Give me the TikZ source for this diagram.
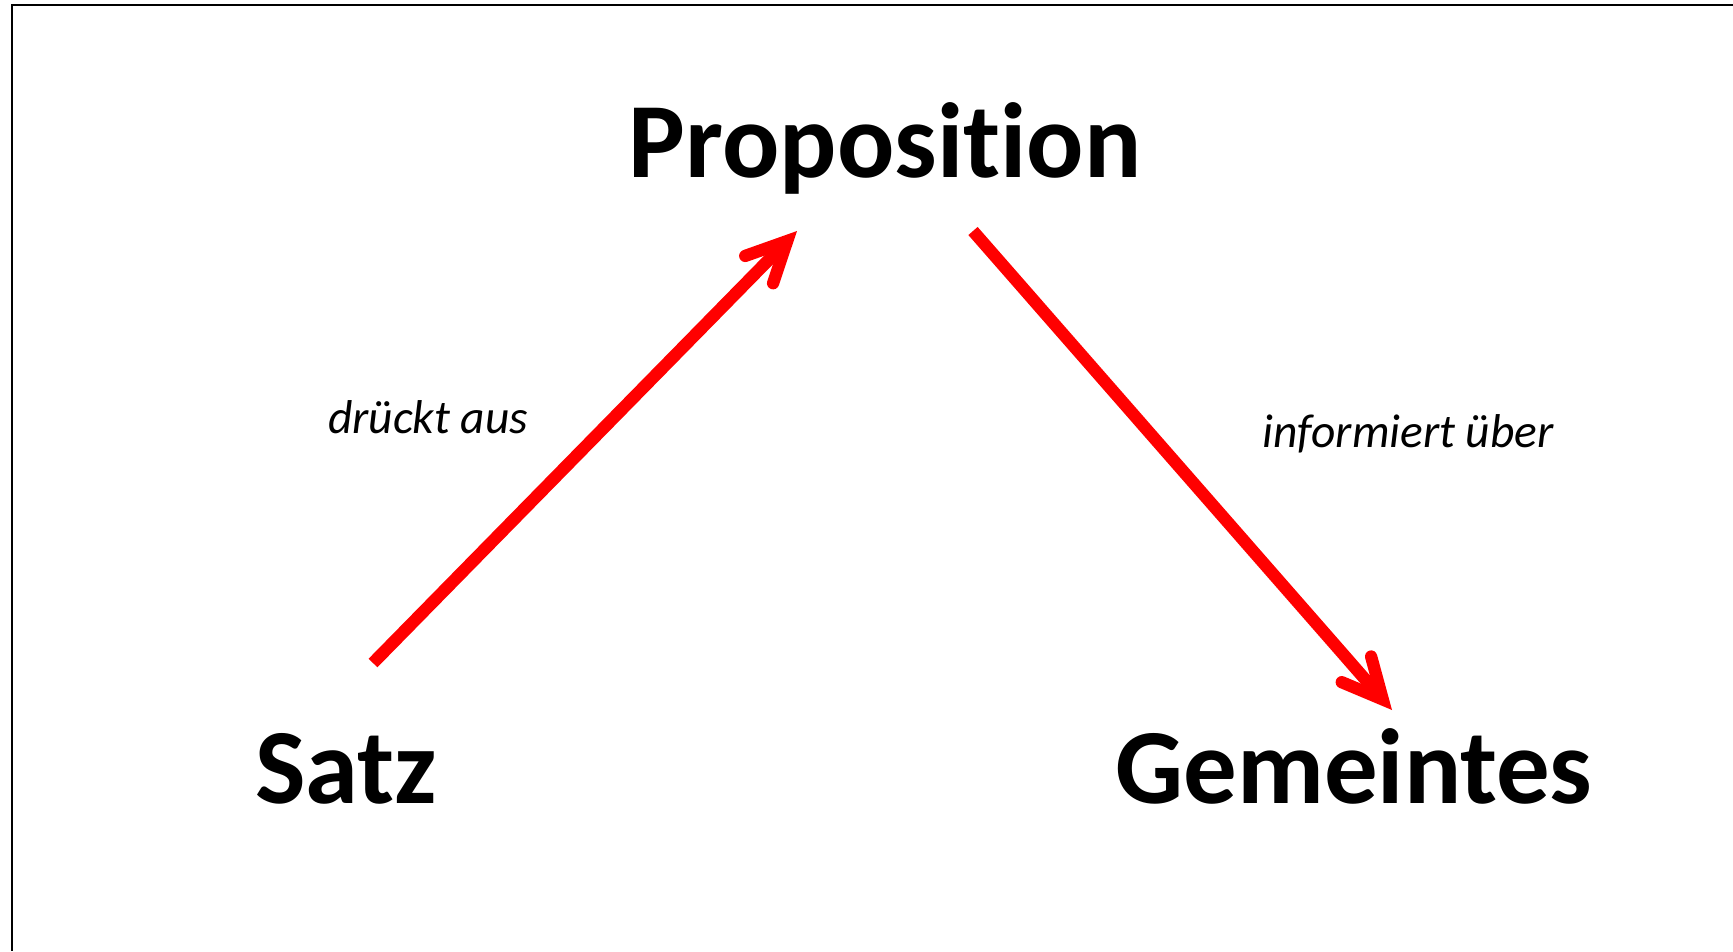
\documentclass[tikz,border=0pt]{standalone}
\usepackage{fontspec}
\setmainfont{Carlito}[Ligatures=NoCommon]
\usetikzlibrary{arrows.meta}

\begin{document}
\begin{tikzpicture}[x=0.1mm, y=-0.1mm,
		term/.style={font=\bfseries\fontsize{30.4}{35}\selectfont, inner sep=0pt, anchor=base},
		rel/.style={font=\itshape\fontsize{13.5}{16}\selectfont, inner sep=0pt, anchor=base},
		arr/.style={red, line width=3.5pt, -{Straight Barb[length=4mm, width=3.9mm, line cap=round, line join=miter]}}]
		
		\useasboundingbox (0,0) rectangle (1733,951);
		\draw[black, line width=0.6pt] (1733,5) -- (12,5) -- (12,951);
		
		\node[term] (prop) at (885,177) {Proposition};
		\node[term] (satz) at (346,803) {Satz};
		\node[term] (gem) at (1354,803) {Gemeintes};
		
		\node[rel] (aus) at (428,433) {drückt aus};
		\node[rel] (ueber) at (1408,447) {informiert über};
		
		\draw[arr] ([shift={(27,-140)}]satz.base) -- ([shift={(-88,54)}]prop.base);
		\draw[arr] ([shift={(88,54)}]prop.base) -- ([shift={(38,-93)}]gem.base);
		
	\end{tikzpicture}
\end{document}
